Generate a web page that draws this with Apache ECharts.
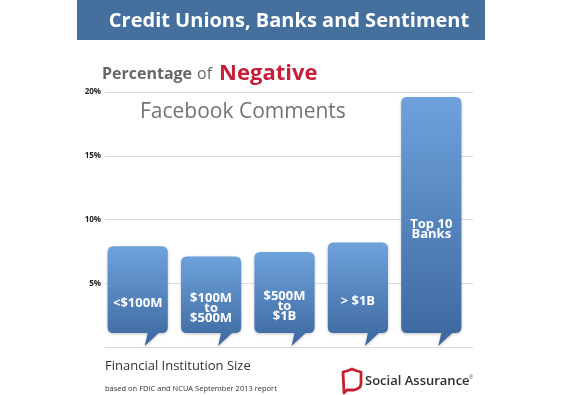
<!DOCTYPE html>
<html><head><meta charset="utf-8">
<script src="https://cdn.jsdelivr.net/npm/echarts@6/dist/echarts.min.js"></script>
<style>html,body{margin:0;padding:0;background:#fff}#c{width:570px;height:395px}</style>
</head><body><div id="c"></div>
<script>
const categories = ['<$100M', '$100M\nto\n$500M', '$500M\nto\n$1B', '> $1B', 'Top 10\nBanks'];
const values = [7.9, 7.1, 7.45, 8.2, 19.6];
const yTicks = [0, 5, 10, 15, 20];

const chart = echarts.init(document.getElementById('c'), null, {renderer: 'canvas'});
const FONT = '"Open Sans", Lato, sans-serif';

function renderBubble(params, api) {
  const i = api.value(0);
  const top = api.coord([i, api.value(1)]);
  const base = api.coord([i, 0]);
  const w = api.size([1, 0])[0] * 0.82;
  const cx = top[0];
  const x0 = cx - w / 2, x1 = cx + w / 2;
  const y0 = top[1];
  const yb = base[1] - 14;
  const r = 6;
  const tailL = cx + 10, tailR = cx + 21, tipX = cx + 7, tipY = base[1] - 1;
  const d = `M${x0 + r},${y0} L${x1 - r},${y0} Q${x1},${y0} ${x1},${y0 + r} L${x1},${yb - r} Q${x1},${yb} ${x1 - r},${yb} L${tailR},${yb} L${tipX},${tipY} L${tailL},${yb} L${x0 + r},${yb} Q${x0},${yb} ${x0},${yb - r} L${x0},${y0 + r} Q${x0},${y0} ${x0 + r},${y0} Z`;
  const ty = (y0 + yb) / 2 + 14;
  return {
    type: 'group',
    children: [
      {
        type: 'path',
        shape: {pathData: d},
        style: {
          fill: new echarts.graphic.LinearGradient(0, 0, 0, 1, [
            {offset: 0, color: '#6ea2db'},
            {offset: 1, color: '#3c679e'}
          ]),
          shadowBlur: 3, shadowColor: 'rgba(0,0,0,0.25)', shadowOffsetY: 1
        }
      },
      {
        type: 'text',
        style: {
          text: categories[i], x: cx, y: ty, align: 'center', verticalAlign: 'middle',
          fill: '#ffffff', font: 'bold 13px ' + FONT, lineHeight: 10
        }
      }
    ]
  };
}

const option = {
  animation: false,
  backgroundColor: '#ffffff',
  grid: [
    {left: 101, right: 102, top: 92, bottom: 48},
    {left: 105, right: 97, top: 92, bottom: 48}
  ],
  xAxis: [
    {type: 'category', gridIndex: 0, data: categories, show: false},
    {type: 'category', gridIndex: 1, data: categories, show: false}
  ],
  yAxis: [
    {type: 'value', gridIndex: 0, min: 0, max: 20, interval: 5, show: false},
    {type: 'value', gridIndex: 1, min: 0, max: 20, interval: 5,
      axisLine: {show: false}, axisTick: {show: false},
      splitLine: {lineStyle: {color: '#dcdcdc', width: 1}},
      axisLabel: {margin: 4, fontSize: 8, fontWeight: 'bold', color: '#222', fontFamily: FONT,
        formatter: v => (yTicks.indexOf(v) > 0 ? v + '%' : '')}
    }
  ],
  series: [{
    type: 'custom',
    xAxisIndex: 0, yAxisIndex: 0,
    renderItem: renderBubble,
    encode: {x: 0, y: 1},
    data: values.map((v, i) => [i, v]),
    z: 5
  }],
  graphic: [
    {type: 'rect', shape: {x: 77, y: 0, width: 408, height: 40}, style: {fill: '#45709e'}, z: 1},
    {type: 'text', style: {text: 'Credit Unions, Banks and Sentiment', x: 289, y: 21, align: 'center', verticalAlign: 'middle', fill: '#fff', font: 'bold 20px ' + FONT}, z: 2},
    {type: 'text', style: {x: 102, y: 74, verticalAlign: 'middle',
      text: '{a|Percentage}{b|of}{c|Negative}',
      rich: {
        a: {font: 'bold 16px ' + FONT, fill: '#666'},
        b: {font: '16px ' + FONT, fill: '#666', padding: [0, 7, 0, 5]},
        c: {font: 'bold 22px ' + FONT, fill: '#c41f3b'}
      }}, z: 10},
    {type: 'text', style: {text: 'Facebook Comments', x: 140, y: 112, verticalAlign: 'middle', fill: '#737373', font: '21px ' + FONT}, z: 10},
    {type: 'text', style: {text: 'Financial Institution Size', x: 105, y: 366, verticalAlign: 'middle', fill: '#333', font: '13px ' + FONT}, z: 10},
    {type: 'text', style: {text: 'based on FDIC and NCUA September 2013 report', x: 105, y: 389, verticalAlign: 'middle', fill: '#333', font: '7.5px ' + FONT}, z: 10},
    {type: 'polygon', shape: {points: [[343,372],[347,371],[352,369],[357,371],[361,372],[361,384],[360,387],[357,389],[354,390],[347,390],[344,393]]},
      style: {fill: '#fff', stroke: '#c8202f', lineWidth: 2.8, lineJoin: 'round'}, z: 10},
    {type: 'text', style: {text: 'Social Assurance', x: 365, y: 381, verticalAlign: 'middle', fill: '#2f2f2f', font: '600 13px ' + FONT}, z: 10},
    {type: 'text', style: {text: '®', x: 469, y: 378, verticalAlign: 'middle', fill: '#666', font: '5px ' + FONT}, z: 10}
  ]
};
chart.setOption(option);
</script>
</body></html>
